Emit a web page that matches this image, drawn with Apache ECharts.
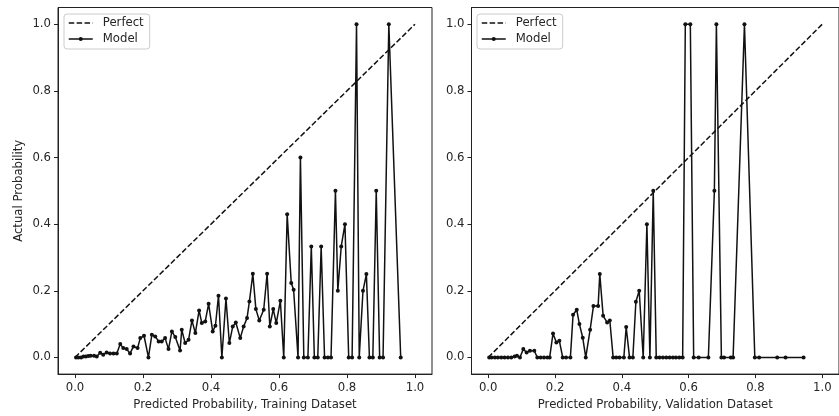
<!DOCTYPE html>
<html>
<head>
<meta charset="utf-8">
<script src="https://cdn.jsdelivr.net/npm/echarts@6/dist/echarts.min.js"></script>
<style>
  html, body { margin: 0; padding: 0; background: #fff; }
  #chart { width: 839px; height: 416px; }
</style>
</head>
<body>
<div id="chart"></div>
<script>
// reliability curves, values
var tickValues = [0, 0.2, 0.4, 0.6, 0.8, 1.0];
var perfectX = [0, 1];
var perfectY = [0, 1];

var trainX = [0.003, 0.010, 0.018, 0.025, 0.032, 0.039, 0.046, 0.056, 0.064, 0.074,
  0.083, 0.093, 0.103, 0.113, 0.123, 0.133, 0.142, 0.152, 0.162, 0.172,
  0.184, 0.192, 0.203, 0.216, 0.226, 0.236, 0.246, 0.255, 0.265, 0.275,
  0.285, 0.295, 0.309, 0.314, 0.324, 0.334, 0.344, 0.354, 0.365, 0.373,
  0.383, 0.393, 0.405, 0.413, 0.422, 0.432, 0.444, 0.454, 0.464, 0.473,
  0.486, 0.496, 0.506, 0.513, 0.523, 0.532, 0.542, 0.555, 0.565, 0.573,
  0.583, 0.592, 0.604, 0.614, 0.624, 0.636, 0.643, 0.656, 0.663, 0.673,
  0.685, 0.695, 0.704, 0.714, 0.724, 0.734, 0.744, 0.753, 0.766, 0.773,
  0.783, 0.794, 0.805, 0.815, 0.828, 0.836, 0.847, 0.857, 0.866, 0.876,
  0.886, 0.896, 0.906, 0.923, 0.958];
var trainY = [0.0, 0.0, 0.0, 0.003, 0.003, 0.004, 0.005, 0.005, 0.003, 0.014,
  0.008, 0.015, 0.012, 0.012, 0.012, 0.040, 0.028, 0.025, 0.012, 0.033,
  0.028, 0.058, 0.065, 0.0, 0.068, 0.063, 0.048, 0.048, 0.058, 0.025,
  0.078, 0.061, 0.021, 0.083, 0.043, 0.053, 0.111, 0.073, 0.141, 0.103,
  0.108, 0.161, 0.078, 0.095, 0.185, 0.0, 0.177, 0.043, 0.093, 0.105,
  0.058, 0.093, 0.118, 0.168, 0.251, 0.145, 0.111, 0.143, 0.251, 0.093,
  0.145, 0.103, 0.170, 0.0, 0.430, 0.223, 0.203, 0.0, 0.600, 0.0,
  0.0, 0.333, 0.0, 0.0, 0.333, 0.0, 0.0, 0.0, 0.5, 0.2,
  0.333, 0.4, 0.0, 0.0, 1.0, 0.0, 0.2, 0.25, 0.0, 0.0,
  0.5, 0.0, 0.0, 1.0, 0.0];

var validX = [0.003, 0.010, 0.020, 0.029, 0.039, 0.049, 0.059, 0.069, 0.079, 0.086,
  0.095, 0.105, 0.115, 0.125, 0.138, 0.147, 0.157, 0.167, 0.177, 0.184,
  0.194, 0.204, 0.213, 0.223, 0.233, 0.246, 0.254, 0.265, 0.273, 0.283,
  0.292, 0.305, 0.315, 0.329, 0.334, 0.344, 0.356, 0.364, 0.374, 0.383,
  0.393, 0.406, 0.413, 0.423, 0.433, 0.442, 0.452, 0.464, 0.475, 0.484,
  0.494, 0.503, 0.513, 0.523, 0.533, 0.543, 0.553, 0.562, 0.572, 0.582,
  0.590, 0.605, 0.615, 0.630, 0.659, 0.677, 0.683, 0.698, 0.706, 0.726,
  0.733, 0.767, 0.798, 0.811, 0.865, 0.890, 0.944];
var validY = [0.0, 0.0, 0.0, 0.0, 0.0, 0.0, 0.0, 0.0, 0.003, 0.005,
  0.0, 0.025, 0.015, 0.02, 0.02, 0.0, 0.0, 0.0, 0.0, 0.0,
  0.072, 0.045, 0.05, 0.0, 0.0, 0.0, 0.128, 0.143, 0.1, 0.059,
  0.0, 0.083, 0.154, 0.154, 0.25, 0.125, 0.105, 0.111, 0.0, 0.0,
  0.0, 0.0, 0.091, 0.0, 0.0, 0.167, 0.2, 0.0, 0.4, 0.0,
  0.5, 0.0, 0.0, 0.0, 0.0, 0.0, 0.0, 0.0, 0.0, 0.0,
  1.0, 1.0, 0.0, 0.0, 0.0, 0.5, 1.0, 0.0, 0.0, 0.0,
  0.0, 1.0, 0.0, 0.0, 0.0, 0.0, 0.0];

function pairs(xs, ys) {
  return xs.map(function (x, i) { return [x, ys[i]]; });
}

var textColor = '#262626';
var frameColor = '#222';
var fontSize = 11.7;
var dash = [5.5, 2.4];

function xAxisFor(idx, title) {
  return {
    type: 'value', gridIndex: idx, min: -0.05, max: 1.05,
    name: title, nameLocation: 'middle', nameGap: 24,
    nameTextStyle: { color: textColor, fontSize: fontSize, fontFamily: 'DejaVu Sans' },
    axisLine: { show: true, onZero: false, lineStyle: { color: frameColor, width: 1 } },
    axisTick: { show: true, length: 4, customValues: tickValues, lineStyle: { color: frameColor } },
    axisLabel: {
      customValues: tickValues, margin: 8, color: textColor, fontSize: fontSize,
      fontFamily: 'DejaVu Sans',
      formatter: function (v) { return v.toFixed(1); }
    },
    splitLine: { show: false }
  };
}

function yAxisFor(idx, title) {
  return {
    type: 'value', gridIndex: idx, min: -0.05, max: 1.05,
    name: title, nameLocation: 'middle', nameGap: 33,
    nameTextStyle: { color: textColor, fontSize: fontSize, fontFamily: 'DejaVu Sans' },
    axisLine: { show: true, onZero: false, lineStyle: { color: frameColor, width: 1 } },
    axisTick: { show: true, length: 4, customValues: tickValues, lineStyle: { color: frameColor } },
    axisLabel: {
      customValues: tickValues, margin: 7, color: textColor, fontSize: fontSize,
      fontFamily: 'DejaVu Sans',
      formatter: function (v) { return v.toFixed(1); }
    },
    splitLine: { show: false }
  };
}

function legendFor(left) {
  return {
    left: left, top: 14, orient: 'vertical',
    data: [
      { name: 'Perfect', itemStyle: { opacity: 0 }, lineStyle: { type: dash, width: 1.5, color: '#111' } },
      { name: 'Model', lineStyle: { width: 1.5, color: '#111' } }
    ],
    itemWidth: 24, itemHeight: 5, itemGap: 4,
    padding: [3, 6, 4, 4],
    borderColor: '#cccccc', borderWidth: 1, borderRadius: 3,
    backgroundColor: 'rgba(255,255,255,0.8)',
    selectedMode: false,
    textStyle: { color: textColor, fontSize: fontSize, fontFamily: 'DejaVu Sans', padding: [0, 0, 0, 5] }
  };
}

function perfectSeries(idx) {
  return {
    name: 'Perfect', type: 'line', xAxisIndex: idx, yAxisIndex: idx,
    data: pairs(perfectX, perfectY), symbol: 'none',
    lineStyle: { color: '#111', width: 1.5, type: dash },
    itemStyle: { color: '#111' }
  };
}

function modelSeries(idx, xs, ys) {
  return {
    name: 'Model', type: 'line', xAxisIndex: idx, yAxisIndex: idx,
    data: pairs(xs, ys), symbol: 'circle', symbolSize: 4, showAllSymbol: true,
    lineStyle: { color: '#111', width: 1.5 },
    itemStyle: { color: '#111' }
  };
}

var chart = echarts.init(document.getElementById('chart'), null, { renderer: 'canvas' });
chart.setOption({
  animation: false,
  backgroundColor: '#fff',
  grid: [
    { left: 58, top: 7.5, width: 374, height: 367, show: true, borderColor: frameColor, borderWidth: 1 },
    { left: 471.5, top: 7.5, width: 373, height: 367, show: true, borderColor: frameColor, borderWidth: 1 }
  ],
  xAxis: [
    xAxisFor(0, 'Predicted Probability, Training Dataset'),
    xAxisFor(1, 'Predicted Probability, Validation Dataset')
  ],
  yAxis: [
    yAxisFor(0, 'Actual Probability'),
    yAxisFor(1, '')
  ],
  legend: [legendFor(64), legendFor(477)],
  series: [
    perfectSeries(0),
    modelSeries(0, trainX, trainY),
    perfectSeries(1),
    modelSeries(1, validX, validY)
  ]
});
</script>
</body>
</html>
